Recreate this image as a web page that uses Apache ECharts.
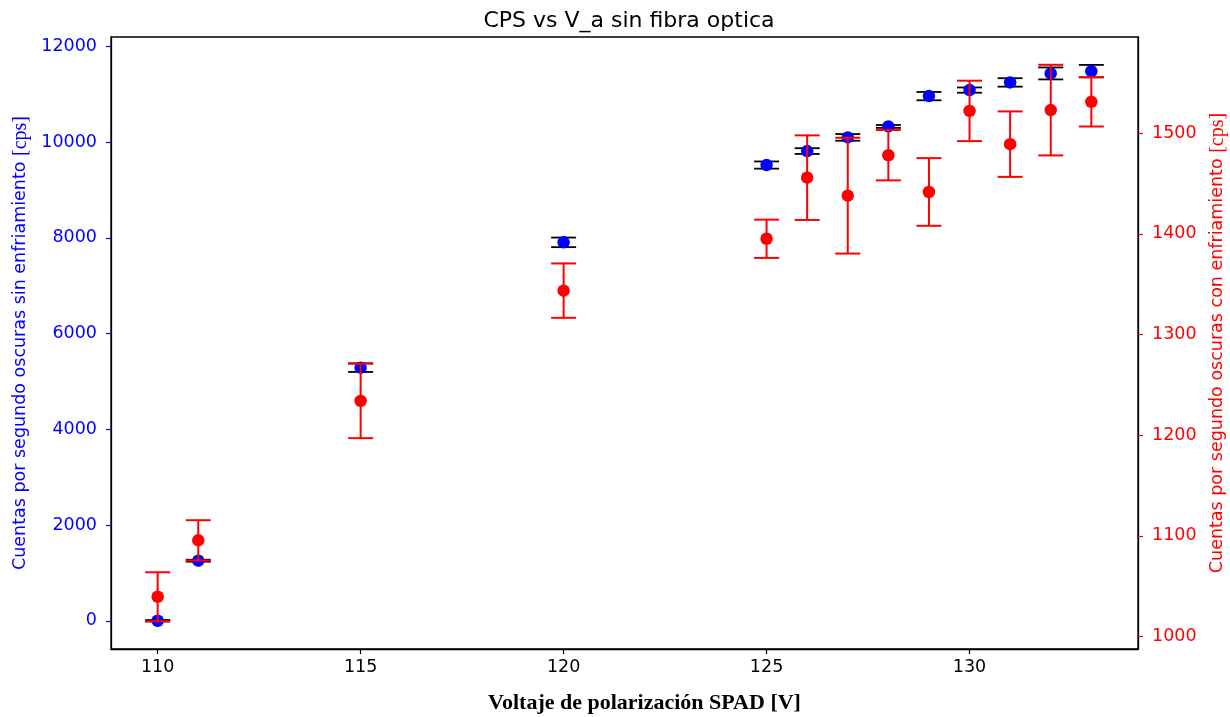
<!DOCTYPE html>
<html>
<head>
<meta charset="utf-8">
<script src="https://cdn.jsdelivr.net/npm/echarts@6/dist/echarts.min.js"></script>
<style>html,body{margin:0;padding:0;background:#fff}#c{width:1230px;height:717px}</style>
</head>
<body>
<div id="c"></div>
<script>
const voltages = [110, 111, 115, 120, 125, 126, 127, 128, 129, 130, 131, 132, 133];
const cpsSin = [0, 1255, 5288, 7905, 9520, 9812, 10098, 10327, 10960, 11086, 11246, 11434, 11482];
const errSin = [15, 20, 90, 100, 75, 60, 70, 30, 87, 55, 88, 125, 130];
const cpsCon = [1039.5, 1095.5, 1234, 1343.5, 1395, 1455.7, 1437.8, 1478, 1441.5, 1522, 1489, 1522.8, 1531];
const errCon = [24.3, 20, 37, 27, 19, 42, 57.5, 25, 33.6, 30, 32.5, 45, 24.5];
const xTicks = [110, 115, 120, 125, 130];
const yLeftTicks = [0, 2000, 4000, 6000, 8000, 10000, 12000];
const yRightTicks = [1000, 1100, 1200, 1300, 1400, 1500];

const BLUE = '#0000ff', RED = '#ff0000';
const sinPts = voltages.map((v, i) => [v, cpsSin[i]]);
const conPts = voltages.map((v, i) => [v, cpsCon[i]]);
const sinErr = voltages.map((v, i) => [v, cpsSin[i], errSin[i]]);
const conErr = voltages.map((v, i) => [v, cpsCon[i], errCon[i]]);

function errRender(color, lw, showStem) {
  return function (params, api) {
    const x = api.value(0), y = api.value(1), e = api.value(2);
    const t = api.coord([x, y + e]);
    const b = api.coord([x, y - e]);
    const hw = 12.5;
    const st = { stroke: color, lineWidth: lw };
    const ch = [
      { type: 'line', shape: { x1: t[0] - hw, y1: t[1], x2: t[0] + hw, y2: t[1] }, style: st },
      { type: 'line', shape: { x1: b[0] - hw, y1: b[1], x2: b[0] + hw, y2: b[1] }, style: st }
    ];
    if (showStem) ch.unshift({ type: 'line', shape: { x1: t[0], y1: t[1], x2: b[0], y2: b[1] }, style: st });
    return { type: 'group', children: ch };
  };
}

const plain = v => String(v);
const chart = echarts.init(document.getElementById('c'), null, { renderer: 'canvas' });
const tickFont = { fontFamily: 'DejaVu Sans', fontSize: 17.5 };
chart.setOption({
  animation: false,
  backgroundColor: '#fff',
  title: {
    text: 'CPS vs V_a sin fibra optica', left: 624, top: 5, textAlign: 'center',
    textStyle: { fontFamily: 'DejaVu Sans', fontSize: 22, fontWeight: 'normal', color: '#000' }
  },
  grid: { left: 111, right: 92, top: 37, bottom: 68, show: true, borderColor: '#000', borderWidth: 1.3, backgroundColor: 'transparent', containLabel: false, outerBoundsMode: 'none' },
  xAxis: {
    type: 'value', min: 108.85, max: 134.15,
    name: 'Voltaje de polarización SPAD [V]', nameLocation: 'middle', nameGap: 43,
    nameTextStyle: { fontFamily: 'Liberation Serif', fontWeight: 'bold', fontSize: 22, color: '#000', padding: [0, 0, 0, 40] },
    axisLine: { onZero: false, lineStyle: { color: '#000', width: 1.3 } },
    axisTick: { customValues: xTicks, length: 5, lineStyle: { color: '#000', width: 1.2 } },
    axisLabel: Object.assign({ customValues: xTicks, color: '#000', margin: 9, formatter: plain }, tickFont),
    splitLine: { show: false }
  },
  yAxis: [
    {
      type: 'value', min: -590, max: 12195, position: 'left',
      name: '{a|Cuentas por segundo oscuras sin enfriamiento }{b|[cps]}', nameLocation: 'middle', nameGap: 80, nameRotate: 90,
      nameTextStyle: { color: BLUE, rich: { a: { fontFamily: 'DejaVu Sans', fontSize: 17.5, color: BLUE }, b: { fontFamily: 'Liberation Serif', fontSize: 20, color: BLUE } } },
      axisLine: { show: true, onZero: false, lineStyle: { color: '#000', width: 1.3 } },
      axisTick: { show: true, customValues: yLeftTicks, length: 5, lineStyle: { color: BLUE, width: 1.2 } },
      axisLabel: Object.assign({ customValues: yLeftTicks, color: BLUE, margin: 14, formatter: plain }, tickFont),
      splitLine: { show: false }
    },
    {
      type: 'value', min: 987.6, max: 1595.4, position: 'right',
      name: '{a|Cuentas por segundo oscuras con enfriamiento }{b|[cps]}', nameLocation: 'middle', nameGap: 63, nameRotate: 90,
      nameTextStyle: { color: RED, rich: { a: { fontFamily: 'DejaVu Sans', fontSize: 17.5, color: RED }, b: { fontFamily: 'Liberation Serif', fontSize: 20, color: RED } } },
      axisLine: { show: true, onZero: false, lineStyle: { color: '#000', width: 1.3 } },
      axisTick: { show: true, customValues: yRightTicks, length: 5, lineStyle: { color: RED, width: 1.2 } },
      axisLabel: Object.assign({ customValues: yRightTicks, color: RED, margin: 14, formatter: plain }, tickFont),
      splitLine: { show: false }
    }
  ],
  series: [
    { type: 'custom', xAxisIndex: 0, yAxisIndex: 0, data: sinErr, renderItem: errRender('#000', 1.8, true), z: 2 },
    { type: 'scatter', xAxisIndex: 0, yAxisIndex: 0, data: sinPts, symbol: 'circle', symbolSize: 12.5, itemStyle: { color: BLUE, opacity: 1 }, z: 3 },
    { type: 'custom', xAxisIndex: 0, yAxisIndex: 1, data: conErr, renderItem: errRender(RED, 2, true), z: 4 },
    { type: 'scatter', xAxisIndex: 0, yAxisIndex: 1, data: conPts, symbol: 'circle', symbolSize: 12.5, itemStyle: { color: RED, opacity: 1 }, z: 5 }
  ]
});
</script>
</body>
</html>
